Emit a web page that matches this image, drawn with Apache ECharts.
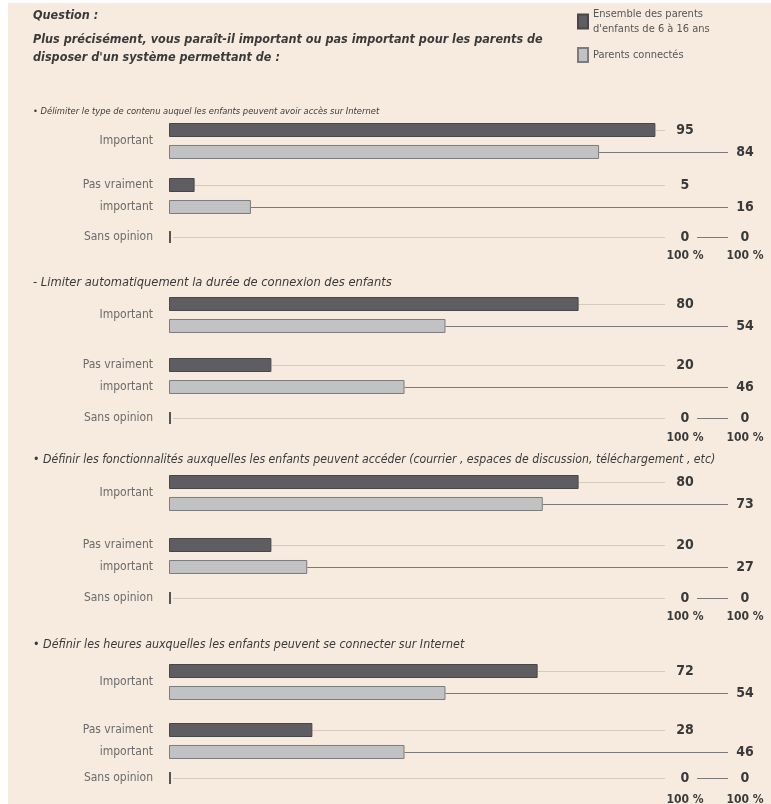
<!DOCTYPE html>
<html>
<head>
<meta charset="utf-8">
<script src="https://cdn.jsdelivr.net/npm/echarts@6/dist/echarts.min.js"></script>
<style>
  html, body { margin: 0; padding: 0; background: #fff; }
  #chart { width: 771px; height: 804px; }
</style>
</head>
<body>
<div id="chart"></div>
<script>
// données
const questionLines = [
  'Question :',
  'Plus précisément, vous paraît-il important ou pas important pour les parents de',
  "disposer d'un système permettant de :"
];
const blockTitles = [
  '• Délimiter le type de contenu auquel les enfants peuvent avoir accès sur Internet',
  '- Limiter automatiquement la durée de connexion des enfants',
  '• Définir les fonctionnalités auxquelles les enfants peuvent accéder (courrier , espaces de discussion, téléchargement , etc)',
  '• Définir les heures auxquelles les enfants peuvent se connecter sur Internet'
];
const rowNames = ['Important', 'Pas vraiment\nimportant', 'Sans opinion'];
const seriesNames = ["Ensemble des parents\nd'enfants de 6 à 16 ans", 'Parents connectés'];
const ensemble = [[95, 5, 0], [80, 20, 0], [80, 20, 0], [72, 28, 0]];
const connectes = [[84, 16, 0], [54, 46, 0], [73, 27, 0], [54, 46, 0]];
const totalLabels = ['100 %', '100 %'];

// mise en page
const FONT = "'Liberation Sans Narrow', 'DejaVu Sans Condensed', 'Arial Narrow', sans-serif";
const titleY = [112, 283, 460, 645];
const titleSize = [9.3, 12.8, 12.2, 12.4];
const rowCenters = [[141, 196, 237], [315, 376, 418], [493, 556, 598], [682, 741, 778]];
const totalY = [256, 438, 617, 800];
const labelX = [685, 745];   // colonnes des valeurs
const lineEnd = [665, 728];  // fin des traits de rappel

const DARK = { color: '#5e5e62', borderColor: '#47474a', borderWidth: 1 };
const LIGHT = { color: '#c1c2c4', borderColor: '#7c7c7c', borderWidth: 1 };

const chart = echarts.init(document.getElementById('chart'));

const grids = [], xAxes = [], yAxes = [], series = [];

blockTitles.forEach((t, b) => {
  rowNames.forEach((name, r) => {
    const g = grids.length;
    const c = rowCenters[b][r];
    const pair = r < 2;
    grids.push({ left: 169, width: 512, top: pair ? c - 20 : c - 10, height: pair ? 40 : 20 });
    xAxes.push({ gridIndex: g, type: 'value', min: 0, max: 100, show: false });
    yAxes.push({
      gridIndex: g, type: 'category', data: [name], inverse: true,
      axisLine: { show: false }, axisTick: { show: false }, splitLine: { show: false },
      axisLabel: { color: '#6b6b6b', fontSize: 12, fontFamily: FONT, margin: 16, lineHeight: 22 }
    });
    series.push({
      name: seriesNames[0], type: 'bar', xAxisIndex: g, yAxisIndex: g,
      data: [ensemble[b][r]],
      barWidth: pair ? 14 : 12, barGap: pair ? '57%' : '-100%',
      barMinHeight: pair ? 0 : 2,
      itemStyle: pair ? DARK : { color: '#555', borderWidth: 0 },
      z: 3, silent: true
    });
    series.push({
      name: seriesNames[1], type: 'bar', xAxisIndex: g, yAxisIndex: g,
      data: [connectes[b][r]],
      barWidth: pair ? 14 : 12, barGap: pair ? '57%' : '-100%',
      itemStyle: pair ? LIGHT : { color: 'transparent', borderWidth: 0 },
      z: 3, silent: true
    });
    // traits de rappel + valeurs
    series.push({
      type: 'custom', xAxisIndex: g, yAxisIndex: g, z: 1, silent: true,
      data: [[ensemble[b][r], 0, 0], [connectes[b][r], 0, 1]],
      renderItem: (params, api) => {
        const s = api.value(2);
        const v = api.value(0);
        const p = api.coord([v, 0]);
        const y = Math.round(p[1] + (pair ? (s === 0 ? -11 : 11) : 0)) + 0.5;
        let x1 = p[0];
        if (!pair) x1 = s === 0 ? p[0] + 4 : labelX[0] + 12;
        return {
          type: 'group',
          children: [
            {
              type: 'line',
              shape: { x1: x1, y1: y, x2: lineEnd[s], y2: y },
              style: { stroke: s === 0 ? '#d3cbc2' : '#7a7a7a', lineWidth: 1 }
            },
            {
              type: 'text', x: labelX[s], y: y,
              style: {
                text: String(v), align: 'center', verticalAlign: 'middle',
                fill: '#3a3a3a', font: 'bold 14px ' + FONT
              }
            }
          ]
        };
      }
    });
  });
});

const graphics = [
  { type: 'rect', left: 8, top: 3, shape: { width: 763, height: 801 }, style: { fill: '#f7ebdf' }, z: -10 },
  { type: 'text', x: 33, y: 16, style: { text: questionLines[0], verticalAlign: 'middle', font: 'italic bold 12.5px ' + FONT, fill: '#3a3a3a' } },
  { type: 'text', x: 33, y: 40, style: { text: questionLines[1], verticalAlign: 'middle', font: 'italic bold 12.5px ' + FONT, fill: '#3a3a3a' } },
  { type: 'text', x: 33, y: 58, style: { text: questionLines[2], verticalAlign: 'middle', font: 'italic bold 12.5px ' + FONT, fill: '#3a3a3a' } }
];
blockTitles.forEach((t, b) => {
  graphics.push({
    type: 'text', x: 33, y: titleY[b],
    style: { text: t, verticalAlign: 'middle', font: 'italic ' + titleSize[b] + 'px ' + FONT, fill: '#3a3a3a' }
  });
  totalLabels.forEach((lab, s) => {
    graphics.push({
      type: 'text', x: labelX[s], y: totalY[b],
      style: { text: lab, align: 'center', verticalAlign: 'middle', font: 'bold 12px ' + FONT, fill: '#3a3a3a' }
    });
  });
});

const legendBase = {
  orient: 'vertical', left: 577, padding: 0, icon: 'rect',
  itemWidth: 10, itemHeight: 14, selectedMode: false
};

const option = {
  backgroundColor: '#ffffff',
  animation: false,
  legend: [
    Object.assign({}, legendBase, {
      data: [seriesNames[0]], top: 1,
      textStyle: { color: '#555', fontSize: 11, lineHeight: 15, fontFamily: FONT, padding: [11, 0, 0, 0] }
    }),
    Object.assign({}, legendBase, {
      data: [seriesNames[1]], top: 47,
      textStyle: { color: '#555', fontSize: 11, lineHeight: 15, fontFamily: FONT }
    })
  ],
  grid: grids,
  xAxis: xAxes,
  yAxis: yAxes,
  series: series,
  graphic: graphics
};

chart.setOption(option);
</script>
</body>
</html>
